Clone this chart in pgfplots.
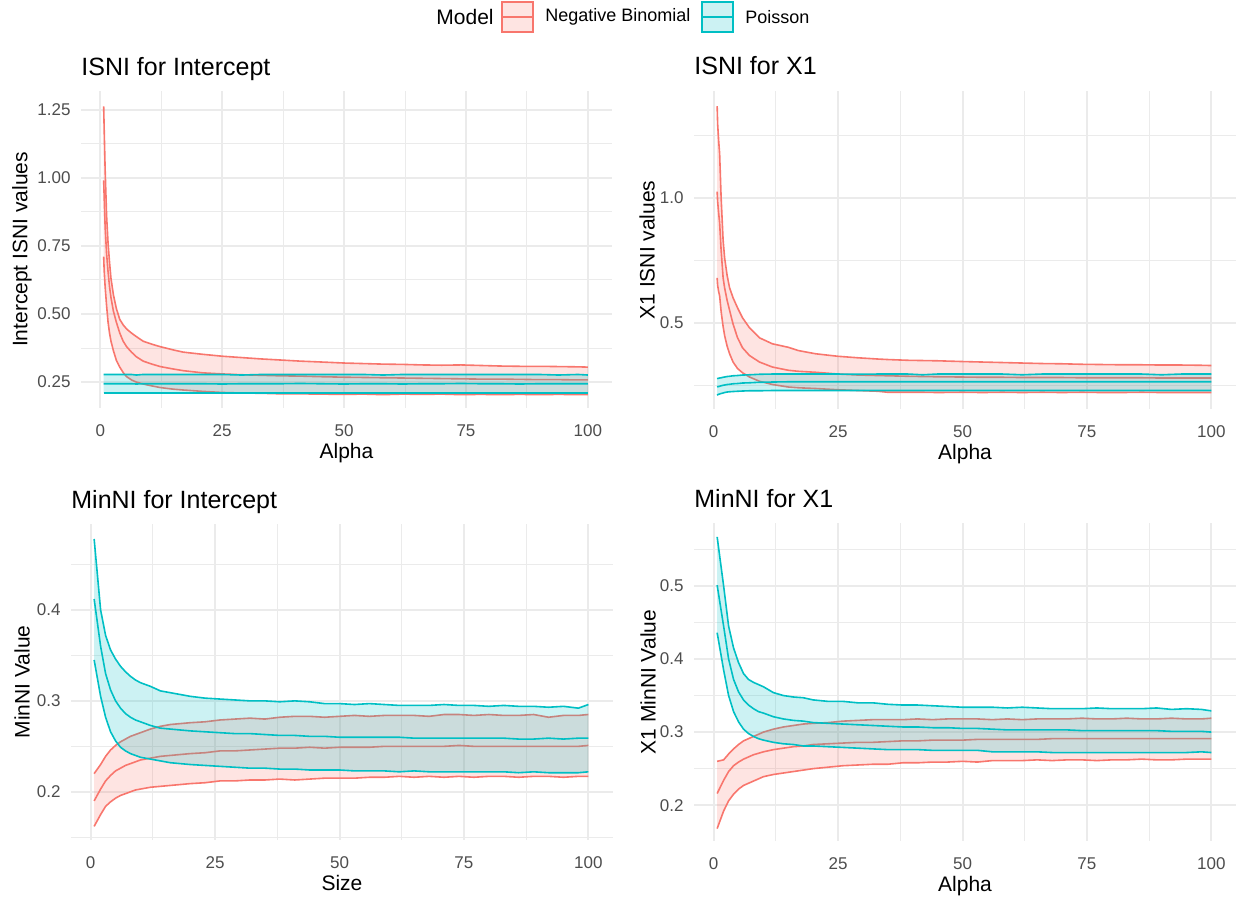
\documentclass[border=0pt]{standalone}
\usepackage{pgfplots}
\pgfplotsset{compat=1.18}
\usepackage{pgfplotstable}
\usepgfplotslibrary{fillbetween}
\usepackage{fontspec}
\setmainfont{Liberation Sans}
\definecolor{nbcol}{HTML}{F8766D}
\definecolor{pcol}{HTML}{00BFC4}
\definecolor{gridcol}{HTML}{EBEBEB}
\definecolor{tickcol}{HTML}{4D4D4D}

\pgfplotstableread{
x nbl nbm nbu pl pm pu
0.7 0.710 0.990 1.262 0.209 0.244 0.278
0.8 0.660 0.930 1.180 0.209 0.244 0.278
1.0 0.600 0.820 1.030 0.209 0.244 0.278
1.3 0.530 0.720 0.860 0.209 0.244 0.278
1.6 0.470 0.655 0.760 0.209 0.244 0.278
1.9 0.430 0.600 0.690 0.209 0.244 0.278
2.2 0.400 0.560 0.630 0.209 0.244 0.278
2.7 0.365 0.510 0.570 0.209 0.244 0.278
3.3 0.330 0.470 0.520 0.209 0.244 0.278
4.0 0.305 0.430 0.480 0.209 0.244 0.278
4.7 0.285 0.400 0.460 0.209 0.244 0.278
5.4 0.270 0.380 0.445 0.209 0.244 0.278
6.4 0.258 0.360 0.430 0.209 0.244 0.278
7.4 0.250 0.343 0.417 0.209 0.243 0.276
8.8 0.243 0.327 0.400 0.209 0.244 0.278
10.6 0.236 0.316 0.389 0.209 0.244 0.278
12.3 0.230 0.307 0.380 0.209 0.244 0.278
15 0.224 0.298 0.368 0.209 0.244 0.278
17 0.221 0.292 0.360 0.209 0.244 0.278
21 0.216 0.284 0.352 0.209 0.244 0.278
25 0.212 0.280 0.345 0.209 0.243 0.278
29 0.210 0.277 0.340 0.209 0.244 0.276
33 0.209 0.275 0.335 0.209 0.244 0.278
37 0.207 0.273 0.331 0.209 0.244 0.278
41 0.207 0.272 0.327 0.209 0.245 0.278
45 0.206 0.270 0.324 0.209 0.244 0.278
50 0.205 0.268 0.320 0.209 0.243 0.278
54 0.206 0.267 0.318 0.209 0.244 0.278
58 0.204 0.266 0.316 0.209 0.244 0.276
62 0.206 0.265 0.315 0.209 0.243 0.278
66 0.205 0.264 0.313 0.209 0.244 0.278
70 0.206 0.263 0.312 0.209 0.244 0.278
74 0.204 0.262 0.313 0.209 0.245 0.278
78 0.205 0.261 0.311 0.209 0.244 0.278
82 0.204 0.261 0.309 0.209 0.244 0.278
86 0.205 0.260 0.308 0.209 0.243 0.278
90 0.204 0.259 0.308 0.209 0.244 0.278
94 0.205 0.259 0.307 0.209 0.244 0.276
98 0.204 0.258 0.306 0.209 0.244 0.278
100 0.204 0.258 0.305 0.209 0.244 0.276
}\tabTL

\pgfplotstableread{
x nbl nbm nbu pl pm pu
0.7 0.680 1.025 1.367 0.210 0.243 0.276
0.8 0.650 0.985 1.296 0.212 0.244 0.277
1.0 0.625 0.940 1.230 0.214 0.245 0.278
1.2 0.608 0.899 1.177 0.215 0.246 0.279
1.5 0.545 0.790 1.000 0.217 0.248 0.280
1.9 0.485 0.680 0.830 0.219 0.250 0.282
2.2 0.449 0.640 0.760 0.221 0.251 0.283
2.7 0.407 0.590 0.690 0.223 0.253 0.285
3.2 0.376 0.550 0.640 0.224 0.254 0.286
3.9 0.343 0.495 0.600 0.225 0.256 0.288
4.8 0.317 0.440 0.560 0.226 0.257 0.289
5.8 0.300 0.400 0.520 0.227 0.259 0.291
7.2 0.283 0.369 0.480 0.228 0.260 0.292
9.2 0.266 0.343 0.440 0.228 0.262 0.294
11.8 0.253 0.323 0.416 0.229 0.263 0.295
15 0.243 0.310 0.402 0.229 0.264 0.295
17 0.240 0.306 0.389 0.229 0.264 0.295
20.5 0.237 0.302 0.376 0.229 0.264 0.295
25 0.232 0.295 0.366 0.229 0.264 0.295
29 0.229 0.291 0.360 0.229 0.264 0.294
33 0.226 0.289 0.355 0.229 0.264 0.295
35 0.222 0.288 0.353 0.229 0.264 0.295
39 0.222 0.286 0.350 0.229 0.264 0.295
42 0.222 0.285 0.349 0.229 0.264 0.292
45 0.221 0.284 0.348 0.229 0.264 0.295
50 0.222 0.283 0.345 0.229 0.264 0.295
54 0.221 0.282 0.343 0.229 0.264 0.295
58 0.222 0.282 0.341 0.229 0.264 0.295
62 0.221 0.281 0.339 0.229 0.264 0.292
66 0.222 0.281 0.337 0.229 0.264 0.295
70 0.221 0.281 0.336 0.229 0.264 0.295
74 0.222 0.280 0.334 0.229 0.264 0.295
78 0.221 0.280 0.333 0.229 0.264 0.295
82 0.221 0.280 0.332 0.229 0.264 0.295
86 0.222 0.280 0.332 0.229 0.264 0.295
90 0.221 0.279 0.331 0.229 0.264 0.292
94 0.221 0.279 0.331 0.229 0.264 0.295
98 0.221 0.279 0.330 0.229 0.264 0.295
100 0.221 0.279 0.329 0.229 0.264 0.295
}\tabTR

\pgfplotstableread{
x nbl nbm nbu pl pm pu
0.7 0.162 0.190 0.220 0.345 0.412 0.478
2 0.175 0.203 0.230 0.305 0.360 0.400
3 0.184 0.212 0.239 0.282 0.330 0.372
4 0.189 0.218 0.246 0.266 0.312 0.356
5 0.193 0.223 0.251 0.256 0.300 0.346
6 0.196 0.226 0.255 0.249 0.292 0.338
7 0.198 0.229 0.258 0.245 0.286 0.332
8 0.200 0.231 0.261 0.242 0.282 0.327
9 0.202 0.233 0.263 0.240 0.279 0.323
10 0.203 0.235 0.265 0.238 0.277 0.320
12 0.205 0.237 0.269 0.236 0.273 0.316
14 0.206 0.239 0.272 0.234 0.270 0.311
16 0.207 0.240 0.274 0.232 0.269 0.309
18 0.208 0.241 0.275 0.231 0.268 0.307
20 0.209 0.242 0.276 0.230 0.267 0.305
23 0.210 0.243 0.277 0.229 0.266 0.303
26 0.212 0.245 0.279 0.228 0.265 0.302
29 0.212 0.245 0.280 0.227 0.264 0.301
32 0.213 0.246 0.281 0.226 0.264 0.300
35 0.213 0.247 0.280 0.226 0.263 0.300
38 0.214 0.248 0.282 0.225 0.262 0.299
41 0.213 0.248 0.283 0.225 0.262 0.300
44 0.214 0.249 0.283 0.224 0.261 0.299
47 0.215 0.248 0.282 0.224 0.261 0.297
50 0.215 0.249 0.283 0.224 0.260 0.297
53 0.215 0.249 0.284 0.223 0.260 0.296
56 0.216 0.249 0.283 0.223 0.260 0.297
59 0.216 0.250 0.284 0.223 0.260 0.296
62 0.217 0.250 0.284 0.222 0.260 0.295
65 0.216 0.250 0.284 0.223 0.259 0.295
68 0.217 0.250 0.283 0.222 0.259 0.295
71 0.216 0.250 0.285 0.222 0.259 0.296
74 0.217 0.251 0.285 0.222 0.259 0.295
77 0.216 0.250 0.284 0.222 0.259 0.295
80 0.217 0.250 0.285 0.222 0.259 0.294
83 0.217 0.250 0.284 0.222 0.259 0.295
86 0.216 0.250 0.284 0.221 0.258 0.294
89 0.217 0.250 0.285 0.222 0.258 0.294
92 0.217 0.250 0.282 0.221 0.259 0.293
95 0.216 0.250 0.284 0.221 0.258 0.294
98 0.217 0.250 0.284 0.221 0.259 0.292
100 0.217 0.251 0.285 0.222 0.259 0.296
}\tabBL

\pgfplotstableread{
x nbl nbm nbu pl pm pu
0.7 0.168 0.216 0.260 0.436 0.501 0.567
2 0.192 0.234 0.262 0.385 0.445 0.500
3 0.206 0.246 0.270 0.350 0.400 0.445
4 0.215 0.254 0.277 0.328 0.372 0.415
5 0.222 0.259 0.283 0.314 0.355 0.395
6 0.227 0.263 0.288 0.304 0.344 0.380
7 0.230 0.266 0.291 0.298 0.337 0.372
8 0.233 0.269 0.294 0.294 0.332 0.368
9 0.236 0.271 0.297 0.291 0.328 0.365
10 0.239 0.273 0.300 0.289 0.326 0.362
12 0.242 0.276 0.304 0.286 0.321 0.354
14 0.244 0.278 0.307 0.284 0.318 0.350
16 0.246 0.280 0.309 0.283 0.316 0.348
18 0.248 0.281 0.311 0.281 0.315 0.347
20 0.250 0.283 0.312 0.281 0.313 0.344
23 0.252 0.284 0.313 0.280 0.312 0.342
26 0.254 0.285 0.315 0.279 0.311 0.342
29 0.255 0.286 0.316 0.278 0.310 0.340
32 0.256 0.286 0.317 0.277 0.309 0.340
35 0.256 0.287 0.317 0.276 0.308 0.338
38 0.258 0.288 0.317 0.276 0.307 0.337
41 0.258 0.288 0.318 0.276 0.307 0.337
44 0.259 0.289 0.317 0.275 0.306 0.336
47 0.259 0.289 0.318 0.275 0.306 0.335
50 0.260 0.289 0.318 0.275 0.305 0.334
53 0.259 0.290 0.318 0.275 0.305 0.334
56 0.261 0.290 0.317 0.273 0.304 0.334
59 0.261 0.290 0.318 0.273 0.303 0.333
62 0.261 0.290 0.317 0.273 0.303 0.334
65 0.262 0.290 0.318 0.273 0.303 0.333
68 0.261 0.291 0.318 0.272 0.303 0.332
71 0.262 0.291 0.318 0.272 0.303 0.332
74 0.262 0.291 0.319 0.272 0.302 0.332
77 0.261 0.291 0.318 0.272 0.302 0.333
80 0.262 0.291 0.318 0.272 0.302 0.332
83 0.262 0.291 0.319 0.272 0.302 0.332
86 0.263 0.291 0.318 0.272 0.302 0.332
89 0.262 0.291 0.318 0.272 0.302 0.333
92 0.262 0.291 0.319 0.272 0.301 0.331
95 0.263 0.291 0.318 0.272 0.301 0.332
98 0.263 0.291 0.318 0.273 0.301 0.331
100 0.263 0.291 0.319 0.272 0.300 0.329
}\tabBR

\pgfplotsset{
  ggpanel/.style={
    scale only axis,
    set layers,
    xmin=-3.95, xmax=104.95,
    axis line style={draw=none},
    tick style={draw=none},
    major tick length=0pt,
    minor tick length=0pt,
    grid=both,
    major grid style={draw=gridcol, line width=1pt},
    minor grid style={draw=gridcol, line width=0.5pt},
    xtick={0,25,50,75,100},
    minor xtick={12.5,37.5,62.5,87.5},
    /pgf/number format/assume math mode=true,
    ticklabel style={font=\fontsize{8.5}{10}\selectfont, text=tickcol},
    xticklabel style={yshift=-4.7pt},
    yticklabel style={xshift=-1.7pt},
    every axis title/.style={at={(axis description cs:0,1)}, anchor=base west, yshift=8pt, inner sep=0pt, font=\fontsize{12.5}{15}\selectfont},
    every axis x label/.style={at={(axis description cs:0.5,0)}, anchor=base, yshift=-25pt, inner sep=0pt, font=\fontsize{10.5}{12}\selectfont},
    every axis y label/.style={at={(axis description cs:0,0.5)}, rotate=90, anchor=center, inner sep=0pt, font=\fontsize{10.5}{12}\selectfont},
  },
  nbline/.style={draw=nbcol, line width=0.8pt, on layer=pre main, forget plot},
  pline/.style={draw=pcol, line width=0.8pt, forget plot},
}

\begin{document}
\begin{tikzpicture}

% Top-left
\begin{axis}[ggpanel, at={(40.5pt,247pt)}, anchor=south west, width=265.5pt, height=158.5pt,
  ymin=0.155, ymax=1.318,
  ytick={0.25,0.5,0.75,1,1.25}, minor ytick={0.375,0.625,0.875,1.125},
  yticklabel style={/pgf/number format/.cd, fixed, fixed zerofill, precision=2},
  title={ISNI for Intercept}, xlabel={Alpha}, ylabel={Intercept ISNI values},
  ylabel style={yshift=29.5pt}]
  \addplot[nbline, name path=au] table[x=x, y=nbu] {\tabTL};
  \addplot[nbline, name path=al] table[x=x, y=nbl] {\tabTL};
  \addplot[fill=nbcol, fill opacity=0.2, draw=none, forget plot] fill between[of=au and al];
  \addplot[nbline] table[x=x, y=nbm] {\tabTL};
  \addplot[pline, name path=bu] table[x=x, y=pu] {\tabTL};
  \addplot[pline, name path=bl] table[x=x, y=pl] {\tabTL};
  \addplot[fill=pcol, fill opacity=0.2, draw=none, forget plot] fill between[of=bu and bl];
  \addplot[pline] table[x=x, y=pm] {\tabTL};
\end{axis}

% Top-right
\begin{axis}[ggpanel, at={(347pt,246.5pt)}, anchor=south west, width=271pt, height=159pt,
  ymin=0.155, ymax=1.428,
  ytick={0.5,1}, minor ytick={0.25,0.75,1.25},
  yticklabel style={/pgf/number format/.cd, fixed, fixed zerofill, precision=1},
  title={ISNI for X1}, xlabel={Alpha}, ylabel={X1 ISNI values},
  ylabel style={yshift=23.5pt}]
  \addplot[nbline, name path=cu] table[x=x, y=nbu] {\tabTR};
  \addplot[nbline, name path=cl] table[x=x, y=nbl] {\tabTR};
  \addplot[fill=nbcol, fill opacity=0.2, draw=none, forget plot] fill between[of=cu and cl];
  \addplot[nbline] table[x=x, y=nbm] {\tabTR};
  \addplot[pline, name path=du] table[x=x, y=pu] {\tabTR};
  \addplot[pline, name path=dl] table[x=x, y=pl] {\tabTR};
  \addplot[fill=pcol, fill opacity=0.2, draw=none, forget plot] fill between[of=du and dl];
  \addplot[pline] table[x=x, y=pm] {\tabTR};
\end{axis}

% Bottom-left
\begin{axis}[ggpanel, at={(35.5pt,31pt)}, anchor=south west, width=271pt, height=158pt,
  ymin=0.147, ymax=0.4945,
  ytick={0.2,0.3,0.4}, minor ytick={0.15,0.25,0.35,0.45},
  yticklabel style={/pgf/number format/.cd, fixed, fixed zerofill, precision=1},
  title={MinNI for Intercept}, xlabel={Size}, ylabel={MinNI Value},
  ylabel style={yshift=24.5pt}]
  \addplot[nbline, name path=eu] table[x=x, y=nbu] {\tabBL};
  \addplot[nbline, name path=el] table[x=x, y=nbl] {\tabBL};
  \addplot[fill=nbcol, fill opacity=0.2, draw=none, forget plot] fill between[of=eu and el];
  \addplot[nbline] table[x=x, y=nbm] {\tabBL};
  \addplot[pline, name path=fu] table[x=x, y=pu] {\tabBL};
  \addplot[pline, name path=fl] table[x=x, y=pl] {\tabBL};
  \addplot[fill=pcol, fill opacity=0.2, draw=none, forget plot] fill between[of=fu and fl];
  \addplot[pline] table[x=x, y=pm] {\tabBL};
\end{axis}

% Bottom-right
\begin{axis}[ggpanel, at={(347pt,30.5pt)}, anchor=south west, width=271pt, height=159pt,
  ymin=0.151, ymax=0.586,
  ytick={0.2,0.3,0.4,0.5}, minor ytick={0.15,0.25,0.35,0.45,0.55},
  yticklabel style={/pgf/number format/.cd, fixed, fixed zerofill, precision=1},
  title={MinNI for X1}, xlabel={Alpha}, ylabel={X1 MinNI Value},
  ylabel style={yshift=23pt}]
  \addplot[nbline, name path=gu] table[x=x, y=nbu] {\tabBR};
  \addplot[nbline, name path=gl] table[x=x, y=nbl] {\tabBR};
  \addplot[fill=nbcol, fill opacity=0.2, draw=none, forget plot] fill between[of=gu and gl];
  \addplot[nbline] table[x=x, y=nbm] {\tabBR};
  \addplot[pline, name path=hu] table[x=x, y=pu] {\tabBR};
  \addplot[pline, name path=hl] table[x=x, y=pl] {\tabBR};
  \addplot[fill=pcol, fill opacity=0.2, draw=none, forget plot] fill between[of=hu and hl];
  \addplot[pline] table[x=x, y=pm] {\tabBR};
\end{axis}

% Legend
\node[anchor=west, inner sep=0pt, font=\fontsize{10.5}{12}\selectfont] at (218pt,442.5pt) {Model};
\draw[nbcol, line width=0.8pt, fill=nbcol, fill opacity=0.2] (251pt,435pt) rectangle (266.5pt,450pt);
\draw[nbcol, line width=0.8pt] (251pt,442.5pt) -- (266.5pt,442.5pt);
\node[anchor=west, inner sep=0pt, font=\fontsize{9}{11}\selectfont] at (272.5pt,442.5pt) {Negative Binomial};
\draw[pcol, line width=0.8pt, fill=pcol, fill opacity=0.2] (351pt,435pt) rectangle (366.5pt,450pt);
\draw[pcol, line width=0.8pt] (351pt,442.5pt) -- (366.5pt,442.5pt);
\node[anchor=west, inner sep=0pt, font=\fontsize{9}{11}\selectfont] at (372.5pt,442.5pt) {Poisson};

\pgfresetboundingbox
\path[use as bounding box] (0pt,0pt) rectangle (618pt,451pt);
\end{tikzpicture}
\end{document}
